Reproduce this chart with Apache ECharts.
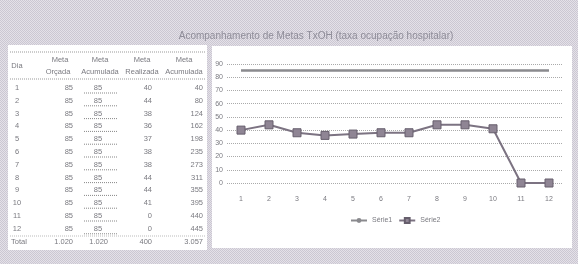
<!DOCTYPE html>
<html>
<head>
<meta charset="utf-8">
<script src="https://cdn.jsdelivr.net/npm/echarts@6/dist/echarts.min.js"></script>
<style>
  html, body { margin: 0; padding: 0; }
  #main { width: 578px; height: 264px; }
</style>
</head>
<body>
<div id="main"></div>
<script>
// dados da planilha
var dias = ['1', '2', '3', '4', '5', '6', '7', '8', '9', '10', '11', '12'];
var metaOrcada = [85, 85, 85, 85, 85, 85, 85, 85, 85, 85, 85, 85];
var metaAcumulada = [85, 85, 85, 85, 85, 85, 85, 85, 85, 85, 85, 85];
var metaRealizada = [40, 44, 38, 36, 37, 38, 38, 44, 44, 41, 0, 0];
var realizadaAcumulada = [40, 80, 124, 162, 198, 235, 273, 311, 355, 395, 440, 445];
var totais = ['1.020', '1.020', '400', '3.057'];
var yTicks = [0, 10, 20, 30, 40, 50, 60, 70, 80, 90];

var txt = '#7a7a80';
var fonte = 'Liberation Sans';

// fundo "reticulado" do scan
var pat = document.createElement('canvas');
pat.width = 2; pat.height = 2;
var pc = pat.getContext('2d');
pc.fillStyle = '#e4e1e8'; pc.fillRect(0, 0, 2, 2);
pc.fillStyle = '#cbc7d2'; pc.fillRect(0, 0, 1, 1); pc.fillRect(1, 1, 1, 1);

// tabela montada com graphic
var g = [];
g.push({ type: 'rect', shape: { x: 8, y: 45, width: 199, height: 205 }, style: { fill: '#fff' }, z: 0 });
g.push({ type: 'rect', shape: { x: 212, y: 46, width: 360, height: 202 }, style: { fill: '#fff' }, z: 0 });
g.push({ type: 'line', shape: { x1: 10, y1: 52, x2: 206, y2: 52 }, style: { stroke: '#999', lineDash: [1, 1] }, z: 1 });
g.push({ type: 'line', shape: { x1: 10, y1: 79, x2: 206, y2: 79 }, style: { stroke: '#999', lineDash: [1, 1] }, z: 1 });
g.push({ type: 'line', shape: { x1: 10, y1: 236, x2: 206, y2: 236 }, style: { stroke: '#bbb', lineDash: [1, 1] }, z: 1 });

function t(x, y, s, align) {
    g.push({ type: 'text', x: x, y: y, z: 2,
        style: { text: s, fill: txt, font: '7.5px ' + fonte, align: align || 'center', verticalAlign: 'middle' } });
}
t(17, 66, 'Dia');
t(60, 60, 'Meta'); t(58, 72, 'Orçada');
t(100, 60, 'Meta'); t(100, 72, 'Acumulada');
t(142, 60, 'Meta'); t(142, 72, 'Realizada');
t(184, 60, 'Meta'); t(184, 72, 'Acumulada');

var y0 = 88, dy = 12.8;
for (var i = 0; i < dias.length; i++) {
    var y = y0 + i * dy;
    t(17, y, dias[i]);
    t(73, y, String(metaOrcada[i]), 'right');
    t(98, y, String(metaAcumulada[i]));
    g.push({ type: 'line', shape: { x1: 84, y1: y + 5, x2: 118, y2: y + 5 }, style: { stroke: '#888', lineDash: [1, 1] }, z: 1 });
    t(152, y, String(metaRealizada[i]), 'right');
    t(203, y, String(realizadaAcumulada[i]), 'right');
}
var yt = 242;
t(19, yt, 'Total');
t(73, yt, totais[0], 'right');
t(108, yt, totais[1], 'right');
t(152, yt, totais[2], 'right');
t(203, yt, totais[3], 'right');

var myChart = echarts.init(document.getElementById('main'));
var option = {
    backgroundColor: { image: pat, repeat: 'repeat' },
    animation: false,
    title: {
        text: 'Acompanhamento de Metas TxOH (taxa ocupação hospitalar)',
        left: 311, top: 26, textAlign: 'center',
        textStyle: { fontSize: 10, fontWeight: 'normal', color: '#8e8c98', fontFamily: fonte }
    },
    legend: {
        top: 212, left: 345, itemWidth: 16, itemHeight: 6, itemGap: 6,
        textStyle: { fontSize: 7, color: txt, fontFamily: fonte },
        data: ['Série1', 'Série2']
    },
    grid: { left: 227, right: 15, top: 64, bottom: 81 },
    xAxis: {
        type: 'category',
        data: dias,
        axisLine: { show: false },
        axisTick: { show: false },
        axisLabel: { fontSize: 7, color: txt, fontFamily: fonte, margin: 13 }
    },
    yAxis: {
        type: 'value', min: 0, max: 90, interval: 10,
        axisLabel: { fontSize: 7, color: txt, fontFamily: fonte, margin: 4,
            formatter: function (v) { return yTicks.indexOf(v) >= 0 ? v : ''; } },
        splitLine: { lineStyle: { color: '#aaa', type: [1, 1] } }
    },
    graphic: g,
    series: [
        {
            name: 'Série1', type: 'line', data: metaOrcada,
            symbol: 'none',
            lineStyle: { color: '#8a8a8e', width: 2.5 },
            itemStyle: { color: '#8a8a8e' }
        },
        {
            name: 'Série2', type: 'line', data: metaRealizada,
            symbol: 'rect', symbolSize: 8,
            lineStyle: { color: '#7c7382', width: 2 },
            itemStyle: { color: '#8f8594', borderColor: '#665e6c', borderWidth: 1 }
        }
    ]
};
myChart.setOption(option);
</script>
</body>
</html>
